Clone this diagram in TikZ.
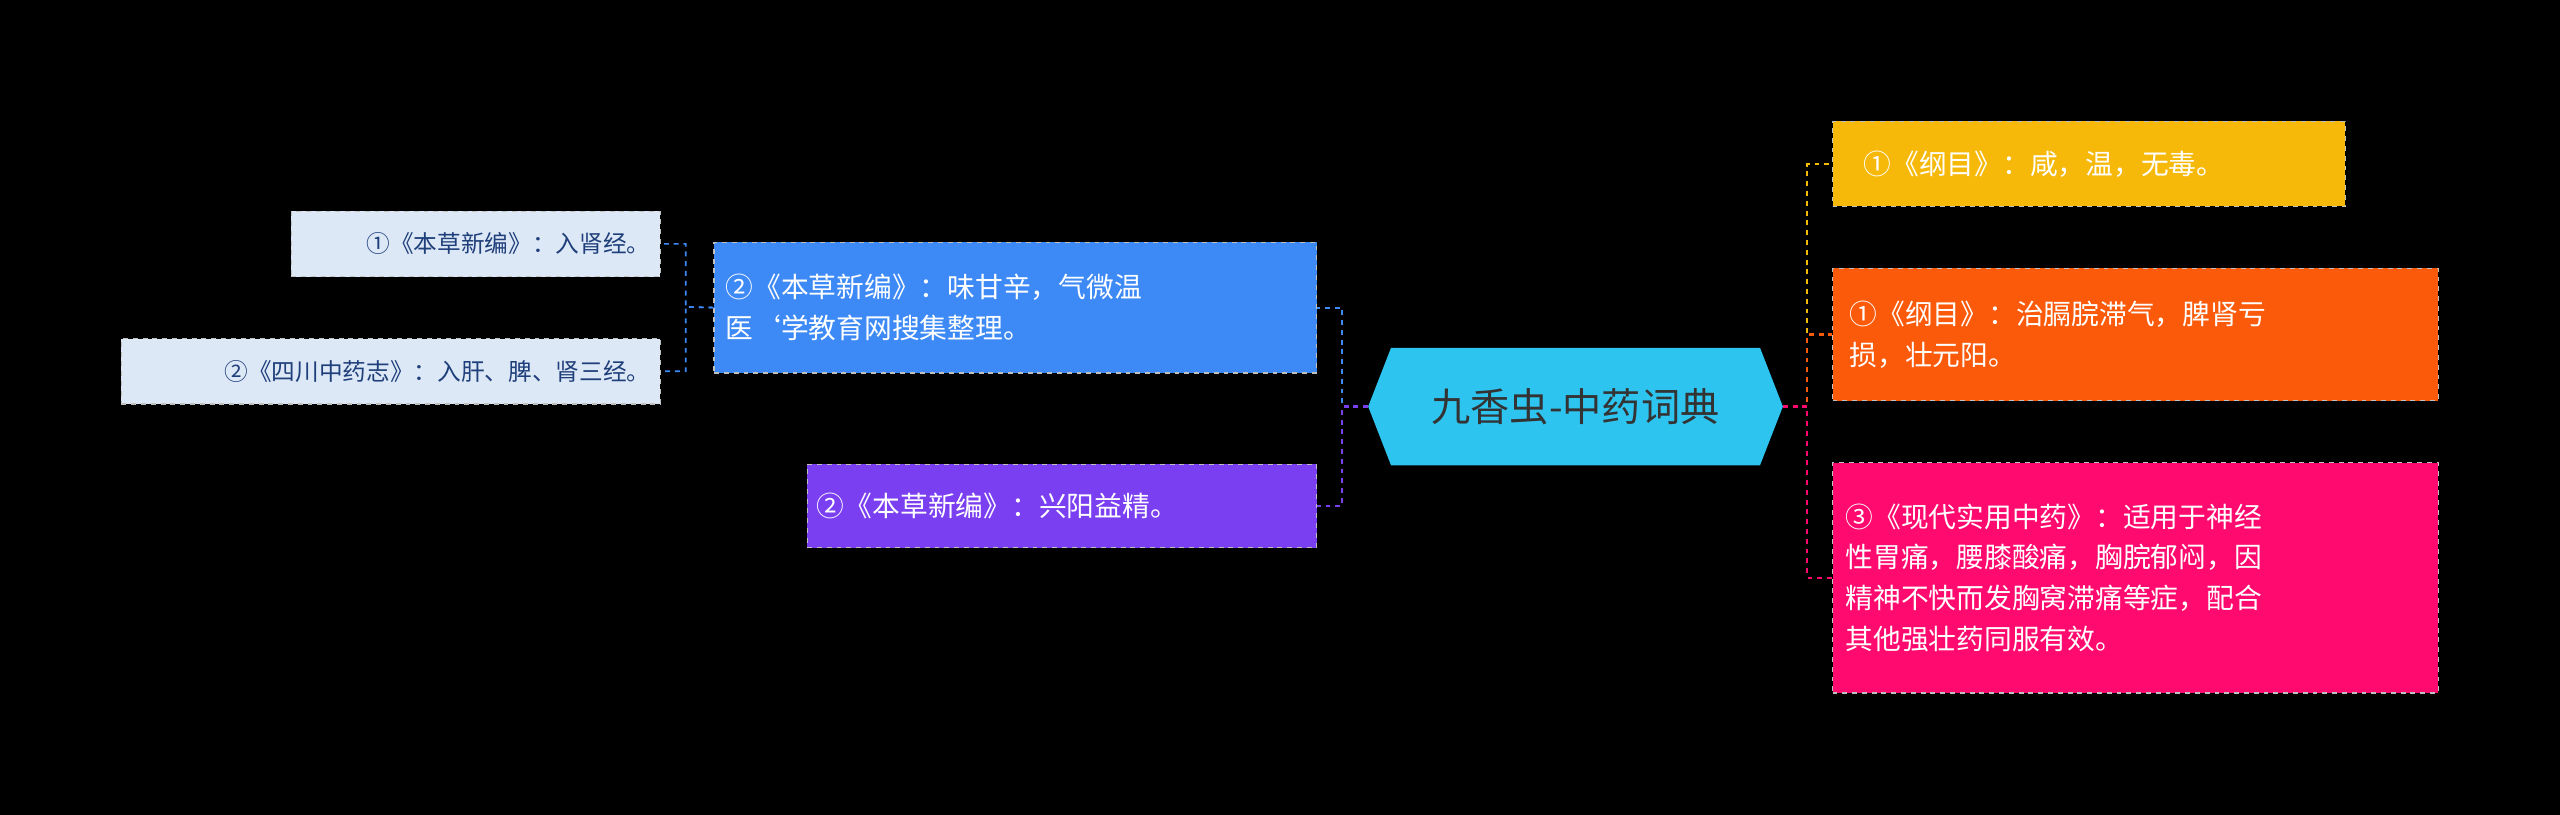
\documentclass[tikz,border=0pt]{standalone}
\usepackage{fontspec}
\setmainfont{Noto Sans CJK SC}
\begin{document}
\begin{tikzpicture}[x=1pt,y=-1pt,
 box/.style={draw=white!75!black, dashed, line width=0.8pt, inner sep=0pt, text=white, align=left, font=\fontsize{17}{25}\selectfont, anchor=north west},
 conn/.style={dashed, line width=1.3pt}]
\fill[black] (0,0) rectangle (1568,499);
\useasboundingbox (0,0) rectangle (1568,499);
\definecolor{cblue}{HTML}{2EC4F0}
\definecolor{camber}{HTML}{F6B90A}
\definecolor{corange}{HTML}{FA5A0A}
\definecolor{cpink}{HTML}{FF0A6E}
\definecolor{cb}{HTML}{3D8AF7}
\definecolor{cpur}{HTML}{7B3FF2}
\definecolor{clight}{HTML}{DDE8F7}
\definecolor{cdark}{HTML}{1F3F7A}
% center
\fill[cblue] (838,249) -- (852,213) -- (1078,213) -- (1092,249) -- (1078,285) -- (852,285) -- cycle;
\node (c) at (965,249) {\fontsize{24}{28}\selectfont\color{black!80}九香虫-中药词典};
\coordinate (cl) at (838,249); \coordinate (cr) at (1092,249);
% right
\node[box, fill=camber, minimum width=314pt, minimum height=52pt, text width=300pt, inner xsep=0pt] (r1) at (1122,74) {\hspace*{12pt}①《纲目》：咸，温，无毒。};
\node[box, fill=corange, minimum width=371pt, minimum height=81pt] (r2) at (1122,164) {\begin{minipage}{350pt}①《纲目》：治膈脘滞气，脾肾亏\\损，壮元阳。\end{minipage}};
\node[box, fill=cpink, minimum width=371pt, minimum height=141pt] (r3) at (1122,283) {\begin{minipage}{355pt}③《现代实用中药》：适用于神经\\性胃痛，腰膝酸痛，胸脘郁闷，因\\精神不快而发胸窝滞痛等症，配合\\其他强壮药同服有效。\end{minipage}};
% left
\node[box, fill=cb, minimum width=369pt, minimum height=80pt] (l1) at (437,148) {\begin{minipage}{355pt}②《本草新编》：味甘辛，气微温\\医`学教育网搜集整理。\end{minipage}};
\node[box, fill=cpur, minimum width=312pt, minimum height=51pt] (l2) at (494,284) {\begin{minipage}{300pt}②《本草新编》：兴阳益精。\end{minipage}};
\node[box, fill=clight, text=cdark, font=\fontsize{14.5}{18}\selectfont, minimum width=226pt, minimum height=40pt] (ll1) at (178,129) {\begin{minipage}{214pt}\raggedleft ①《本草新编》：入肾经。\end{minipage}};
\node[box, fill=clight, text=cdark, font=\fontsize{14.5}{18}\selectfont, minimum width=330pt, minimum height=40pt] (ll2) at (74,207) {\begin{minipage}{318pt}\raggedleft ②《四川中药志》：入肝、脾、肾三经。\end{minipage}};
% connectors
\draw[conn, cb] (cl) -- (822,249) |- (l1.east);
\draw[conn, cpur] (cl) -- (822,249) |- (l2.east);
\draw[conn, camber] (cr) -- (1107,249) |- (r1.west);
\draw[conn, corange] (cr) -- (1107,249) |- (r2.west);
\draw[conn, cpink] (cr) -- (1107,249) |- (r3.west);
\draw[conn, cb, line width=1pt] (l1.west) -- (420,188) |- (ll1.east);
\draw[conn, cb, line width=1pt] (l1.west) -- (420,188) |- (ll2.east);
\end{tikzpicture}
\end{document}
